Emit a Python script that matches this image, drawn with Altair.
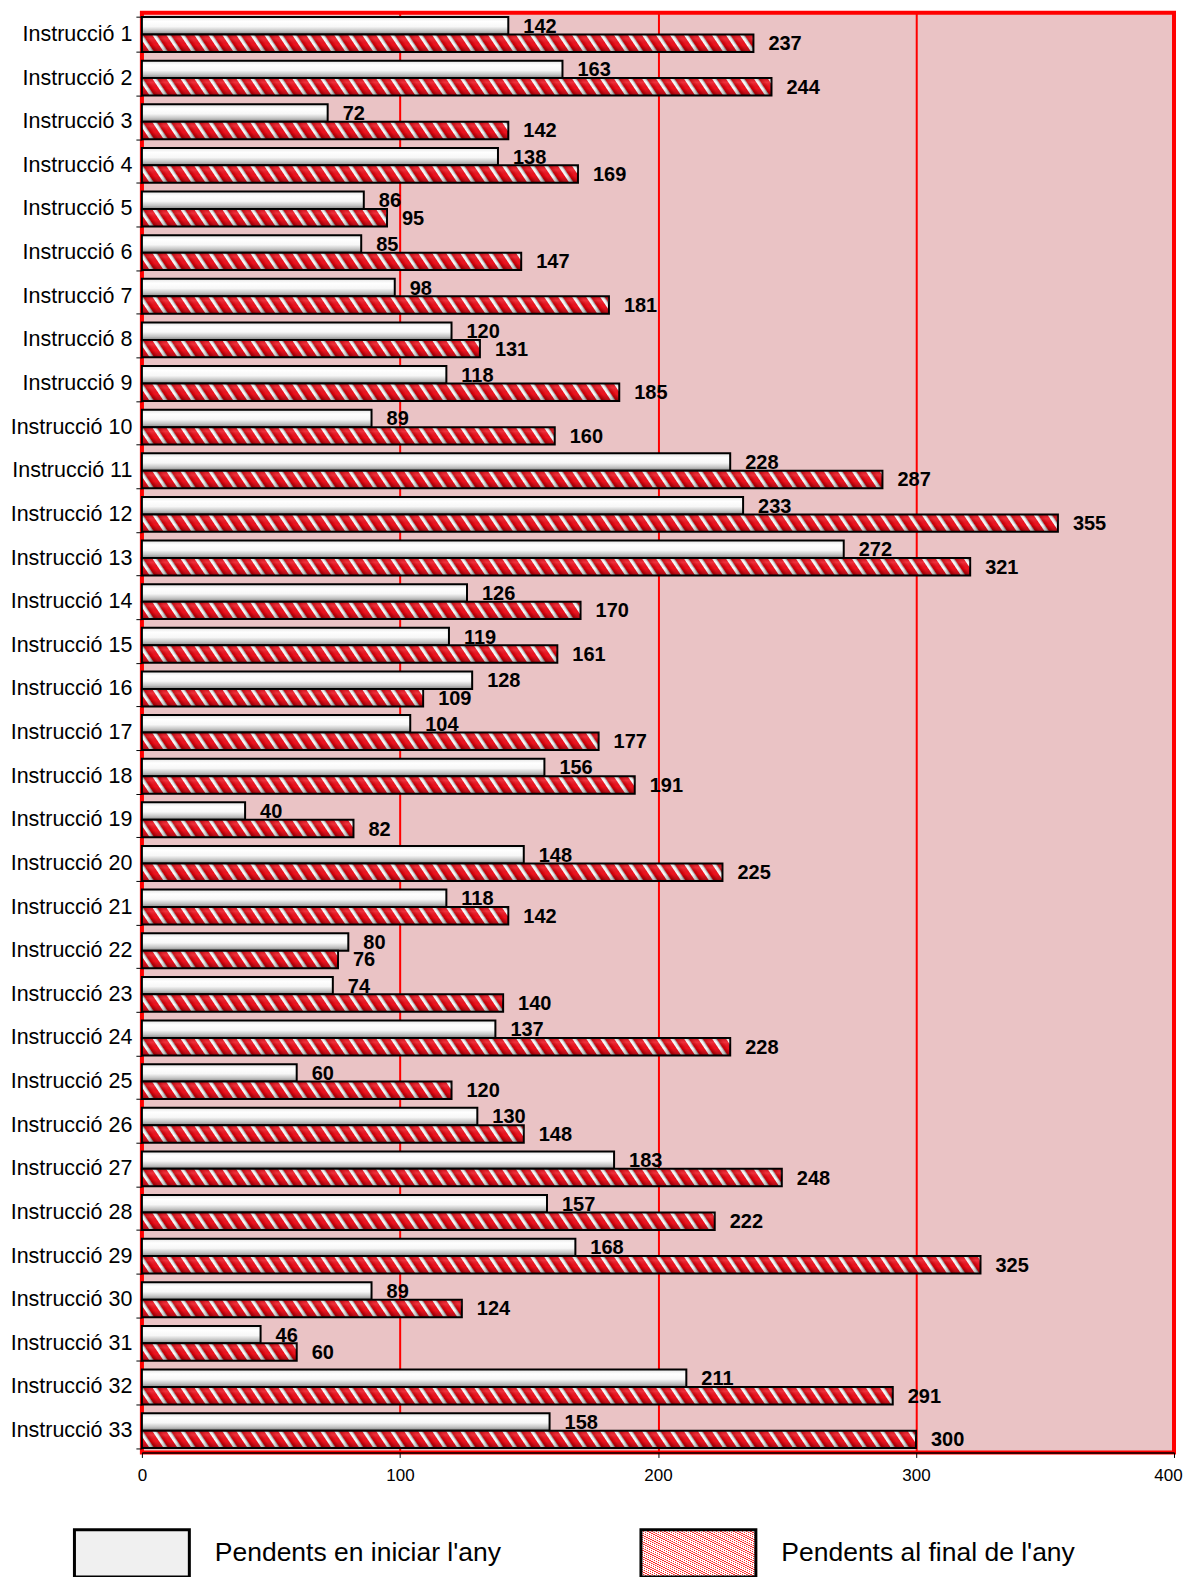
import math
import altair as alt
import pandas as pd

# ---------------- data ----------------
categories = [f"Instrucció {i}" for i in range(1, 34)]
series_names = ["Pendents en iniciar l'any", "Pendents al final de l'any"]
start_values = [142, 163, 72, 138, 86, 85, 98, 120, 118, 89, 228, 233, 272, 126, 119,
                128, 104, 156, 40, 148, 118, 80, 74, 137, 60, 130, 183, 157, 168, 89,
                46, 211, 158]
end_values = [237, 244, 142, 169, 95, 147, 181, 131, 185, 160, 287, 355, 321, 170, 161,
              109, 177, 191, 82, 225, 142, 76, 140, 228, 120, 148, 248, 222, 325, 124,
              60, 291, 300]
x_ticks = [0, 100, 200, 300, 400]

# ---------------- layout / style ----------------
FONT = "Liberation Sans"
W_PLOT = 1033
H_PLOT = 1441
X_MAX = 400
PX = W_PLOT / X_MAX
STEP = H_PLOT / len(categories)
BAR_H = STEP * 0.8 / 2
BG = "#eac3c5"

rows = []
for i, c in enumerate(categories):
    rows.append({"i": i, "cat": c, "s": 0, "series": series_names[0], "value": start_values[i]})
    rows.append({"i": i, "cat": c, "s": 1, "series": series_names[1], "value": end_values[i]})
df = pd.DataFrame(rows)


def stripe_gradient(W, h, P, s, pattern):
    """Diagonal '\\' stripes (period P px along x, slope s) as a bbox linear gradient."""
    beta = -h / (s * W)
    lam = (1 - beta) / (1 + beta ** 2)
    x1, y1 = 0.0, 1.0
    x2, y2 = lam, 1 + lam * beta
    N = (W + h / s) / P
    stops = []
    k = 0
    last = -1.0
    done = False
    while not done:
        for f, col in pattern:
            off = (k + f) / N
            if off >= 1:
                done = True
                break
            off = round(off, 5)
            if off < last:
                off = last
            stops.append({"offset": off, "color": col})
            last = off
        k += 1
    stops.append({"offset": 1, "color": pattern[0][1]})
    return {"gradient": "linear", "x1": x1, "y1": y1, "x2": round(x2, 5), "y2": round(y2, 5),
            "stops": stops}


candy = [(0.00, "#cc0008"), (0.25, "#ec1420"), (0.52, "#ec1420"), (0.60, "#ffffff"),
         (0.74, "#f2f2f2"), (0.84, "#a8a8a8"), (0.92, "#cc0008")]
hatch = [(0.00, "#ffffff"), (0.55, "#ffffff"), (0.62, "#ff2a2a"), (0.90, "#ff2a2a"),
         (0.97, "#ffffff")]

white_grad = {"gradient": "linear", "x1": 0, "y1": 0, "x2": 0, "y2": 1,
              "stops": [{"offset": 0, "color": "#e4e4e4"}, {"offset": 0.25, "color": "#ffffff"},
                        {"offset": 0.55, "color": "#f7f7f7"}, {"offset": 0.8, "color": "#c4c4c4"},
                        {"offset": 1, "color": "#868686"}]}
shade_grad = {"gradient": "linear", "x1": 0, "y1": 0, "x2": 0, "y2": 1,
              "stops": [{"offset": 0, "color": "rgba(0,0,0,0.15)"},
                        {"offset": 0.25, "color": "rgba(255,255,255,0.12)"},
                        {"offset": 0.6, "color": "rgba(0,0,0,0)"},
                        {"offset": 1, "color": "rgba(0,0,0,0.30)"}]}

y_enc = alt.Y("cat:N",
              scale=alt.Scale(domain=categories, paddingInner=0.2, paddingOuter=0.1),
              axis=alt.Axis(title=None, domain=False, tickBand="extent", tickSize=6,
                            tickColor="black", tickWidth=1, labelFontSize=21.5,
                            labelColor="black", labelFont=FONT, labelPadding=4))
yo_enc = alt.YOffset("series:N",
                     scale=alt.Scale(domain=series_names, paddingInner=0, paddingOuter=0))
x_enc = alt.X("value:Q",
              scale=alt.Scale(domain=[0, X_MAX], nice=False, zero=True),
              axis=alt.Axis(values=x_ticks, title=None, grid=True, gridColor="#ff0000",
                            gridWidth=2, gridOpacity=1, domainColor="black", domainWidth=1.5,
                            tickColor="black", tickSize=5, labelFontSize=17, labelFlush=False,
                            labelOffset={"expr": "datum.value == 400 ? -6 : 0"},
                            labelColor="black", labelPadding=10, labelFont=FONT))

layers = []
layers.append(
    alt.Chart().transform_filter("datum.s == 0")
    .mark_bar(fill=white_grad, stroke="black", strokeWidth=2)
    .encode(x=x_enc, y=y_enc, yOffset=yo_enc)
)
for i, v in enumerate(end_values):
    g = stripe_gradient(v * PX, BAR_H, 14.0, 1.5, candy)
    layers.append(
        alt.Chart().transform_filter(f"datum.s == 1 && datum.i == {i}")
        .mark_bar(fill=g, stroke="black", strokeWidth=2)
        .encode(x=x_enc, y=y_enc, yOffset=yo_enc)
    )
layers.append(
    alt.Chart().transform_filter("datum.s == 1")
    .mark_bar(fill=shade_grad)
    .encode(x=x_enc, y=y_enc, yOffset=yo_enc)
)
layers.append(
    alt.Chart().mark_text(align="left", baseline="middle", dx=15, dy=1, fontSize=20,
                          fontWeight="bold", font=FONT, color="black")
    .encode(x=x_enc, y=y_enc, yOffset=yo_enc, text=alt.Text("value:Q"))
)

main = alt.layer(*layers, data=df).properties(
    width=W_PLOT, height=H_PLOT,
    view=alt.ViewBackground(fill=BG, stroke="#ff0000", strokeWidth=4)
)

# ---------------- legend ----------------
leg_df = pd.DataFrame({"series": series_names, "s": [0, 1]})
BOX_W = 115
BOX_PATH = "M-1,-0.41L1,-0.41L1,0.41L-1,0.41Z"
lx = alt.X("series:N",
           scale=alt.Scale(type="point", domain=series_names, range=[-10, 557], padding=0),
           axis=None)
hatch_grad = stripe_gradient(BOX_W, BOX_W * 0.82, 4.3, 1.0, hatch)
box0 = (alt.Chart(leg_df).transform_filter("datum.s == 0")
        .mark_point(shape=BOX_PATH, size=BOX_W ** 2, filled=True, fill="#f0f0f0",
                    fillOpacity=1, stroke="black", strokeWidth=3, strokeOpacity=1, opacity=1)
        .encode(x=lx))
box1 = (alt.Chart(leg_df).transform_filter("datum.s == 1")
        .mark_point(shape=BOX_PATH, size=BOX_W ** 2, filled=True, fill=hatch_grad,
                    fillOpacity=1, stroke="black", strokeWidth=3, strokeOpacity=1, opacity=1)
        .encode(x=lx))
leg_text = (alt.Chart(leg_df)
            .mark_text(align="left", baseline="middle", dx=83, fontSize=26.5, font=FONT,
                       color="black")
            .encode(x=lx, text="series:N"))
legend = alt.layer(box0, box1, leg_text).properties(width=W_PLOT, height=52)

chart = (
    alt.vconcat(main, legend, spacing=37)
    .configure(padding={"left": 0, "top": -9, "right": 0, "bottom": 0}, background="white")
    .configure_view(stroke="transparent")
)

chart.save("out.html", embed_options={"renderer": "svg", "actions": False})
